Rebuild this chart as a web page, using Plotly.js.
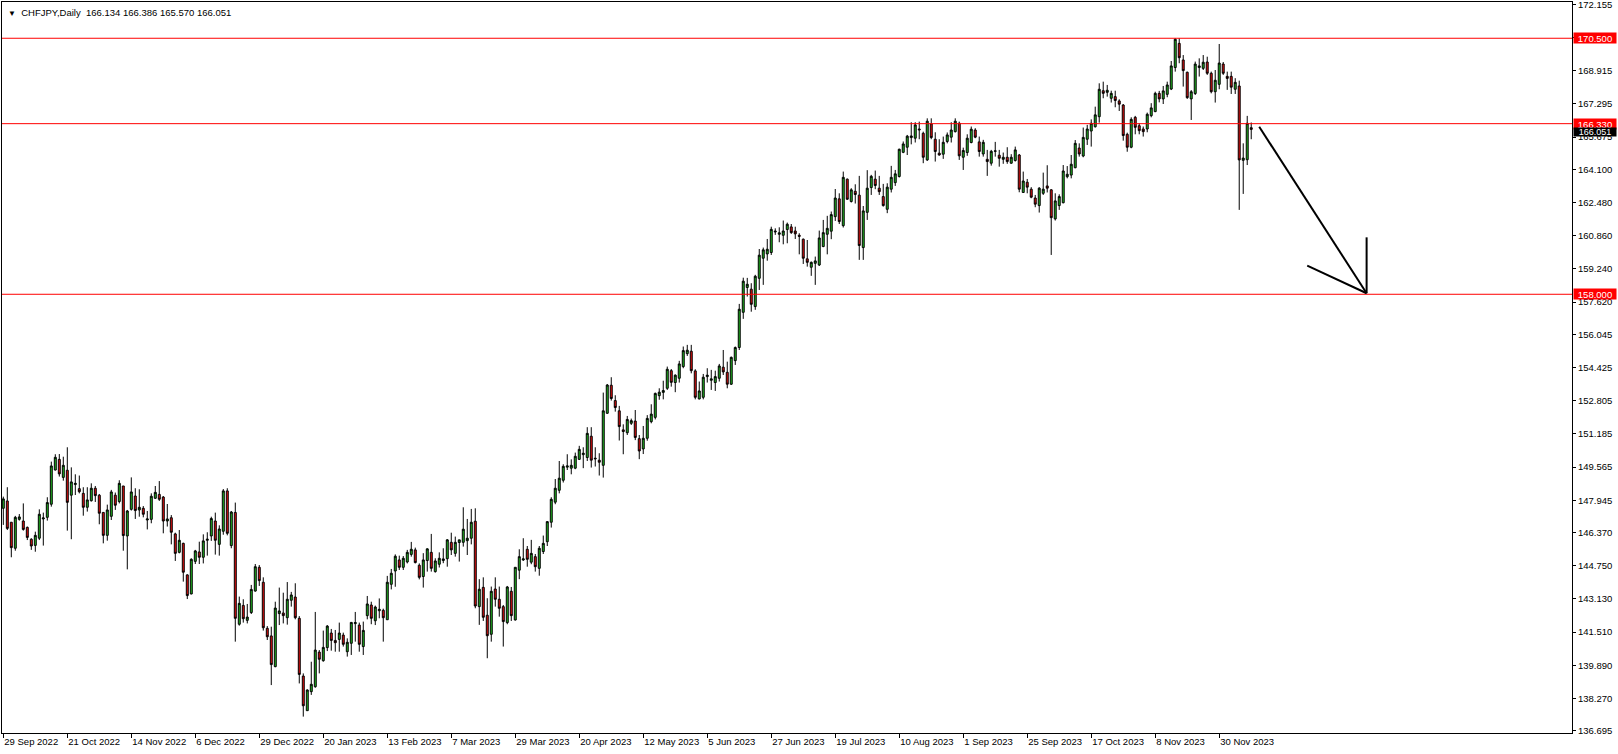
<!DOCTYPE html>
<html>
<head>
<meta charset="utf-8">
<script src="https://cdn.plot.ly/plotly-3.0.1.min.js"></script>
<style>
html,body{margin:0;padding:0;background:#ffffff;}
#chart{width:1618px;height:754px;}
</style>
</head>
<body>
<div id="chart"></div>
<script>
const symbolTitle = "CHFJPY,Daily";

const opens = [
147.55,147.91,146.87,145.60,147.01,146.93,146.62,146.04,145.74,146.09,
147.03,147.11,147.75,149.42,149.94,149.06,149.41,148.19,148.71,148.51,
148.28,147.60,147.92,148.53,148.19,147.35,146.23,147.16,148.19,147.88,
148.64,146.20,147.50,148.15,147.47,147.55,146.98,147.01,148.04,148.23,
148.10,146.93,147.09,146.30,145.40,145.84,144.30,143.37,144.96,145.42,
145.16,145.99,146.20,146.93,145.79,146.43,148.40,145.73,147.35,141.89,
142.81,142.08,142.46,143.51,144.67,143.94,141.69,141.32,139.82,142.41,
142.44,142.21,143.06,143.22,142.18,139.36,137.67,138.60,138.84,140.53,
140.11,140.75,141.46,141.10,141.15,141.36,140.55,140.96,141.92,141.85,
140.80,142.31,142.83,142.06,142.55,142.57,142.11,143.84,144.49,145.03,
144.67,144.93,145.30,145.52,144.77,144.22,145.00,145.40,144.46,144.82,
145.00,145.09,145.89,145.35,145.88,145.89,145.97,146.09,146.92,142.75,
143.69,142.33,141.40,143.61,143.11,142.75,141.97,143.50,142.10,144.53,
145.03,145.55,144.92,145.19,144.62,145.44,145.92,146.87,147.85,148.43,
148.92,149.56,149.51,149.51,149.94,150.17,150.03,151.07,149.96,149.90,
149.65,152.19,153.56,152.81,152.31,151.38,151.24,151.70,151.81,150.95,
150.45,150.97,151.78,151.99,153.05,153.21,153.41,154.27,153.69,153.90,
154.47,155.10,155.22,154.26,152.89,152.97,153.98,153.80,153.69,153.90,
154.44,154.19,153.61,154.76,155.40,157.12,158.33,158.25,157.40,158.78,
159.76,159.97,160.04,161.04,160.93,160.88,161.16,161.29,161.09,160.88,
160.69,159.73,159.32,159.51,159.43,160.33,160.93,161.08,161.79,162.66,
161.35,163.62,162.53,163.03,162.84,160.28,162.00,163.21,163.62,163.18,
162.77,162.15,163.13,163.45,163.75,164.93,165.18,165.65,165.62,166.07,
165.86,164.56,166.32,165.57,164.89,164.84,165.46,165.67,165.94,166.35,
164.69,164.92,165.41,166.02,165.44,164.85,164.59,164.40,164.98,164.79,
164.59,164.69,164.40,164.53,164.80,162.97,163.47,163.13,162.70,162.33,
162.93,163.29,163.10,161.68,162.33,162.47,163.74,163.82,164.18,165.14,
164.75,165.57,165.97,166.18,166.67,167.94,167.86,167.57,167.65,167.44,
167.24,165.81,165.18,166.64,166.23,166.07,166.07,166.72,166.92,167.81,
167.54,167.76,168.02,169.07,170.25,169.44,168.84,167.54,167.80,169.07,
169.03,169.34,168.79,167.89,168.25,169.24,168.64,168.64,168.01,168.17,
164.54,164.57,166.134
];

const highs = [
148.12,148.58,146.87,147.18,147.27,147.79,146.66,146.09,146.41,147.50,
147.34,148.09,149.83,150.19,150.20,150.07,150.53,149.55,149.21,149.15,
148.58,148.58,148.77,148.64,148.25,147.35,147.73,148.45,148.32,148.92,
148.64,147.47,149.06,148.53,148.48,147.66,147.42,148.28,148.64,148.88,
148.15,147.76,147.22,146.36,146.49,145.87,144.33,145.11,145.52,145.92,
146.28,146.38,147.14,147.34,146.72,148.49,148.53,147.42,147.83,143.24,
143.11,142.88,143.81,144.83,144.78,144.18,141.80,141.77,142.99,143.68,
143.43,143.95,143.47,143.89,142.29,139.49,138.71,140.06,142.49,140.63,
141.58,141.85,141.66,141.61,141.97,141.48,141.20,142.00,142.49,141.97,
142.02,143.27,142.99,142.80,143.15,142.65,144.25,144.59,145.30,145.24,
145.22,145.52,145.91,145.63,144.86,145.36,145.60,146.30,145.11,145.40,
145.60,146.05,146.36,146.17,146.01,147.60,147.03,147.52,147.55,144.09,
144.18,143.16,143.73,144.18,143.73,142.83,143.76,143.71,144.67,145.55,
146.09,145.71,146.01,145.32,145.71,146.22,146.93,148.09,148.98,149.86,
149.70,150.19,149.94,150.27,150.60,150.53,151.51,151.51,150.53,150.24,
153.20,153.62,153.95,153.07,152.55,151.65,152.06,151.93,152.35,151.13,
151.57,152.10,152.63,153.20,153.41,153.78,154.47,154.35,154.09,154.75,
155.45,155.53,155.53,154.34,153.74,154.11,154.39,154.31,154.27,154.60,
155.28,154.71,154.96,155.45,157.53,158.81,158.80,158.54,158.95,160.21,
160.28,160.70,161.30,161.22,161.27,161.60,161.50,161.43,161.30,160.98,
160.72,160.65,159.60,159.84,161.11,161.63,161.83,162.04,163.14,162.93,
163.99,163.65,163.18,163.37,163.78,162.31,164.06,163.83,164.04,163.78,
163.39,163.42,164.27,164.07,165.11,165.46,165.78,166.40,166.40,166.43,
165.94,166.59,166.59,165.91,165.57,165.70,165.90,166.40,166.59,166.43,
165.16,165.81,166.19,166.11,165.70,165.54,165.05,165.05,165.44,165.05,
164.92,165.18,164.84,165.21,164.85,163.99,163.63,163.23,162.85,163.23,
163.94,164.30,163.13,162.93,162.88,164.31,164.26,164.80,165.53,165.37,
166.14,166.27,166.54,167.16,168.30,168.38,168.22,167.94,167.94,167.52,
167.29,165.89,166.64,166.71,166.35,166.19,166.87,167.33,167.89,167.93,
168.17,168.38,169.39,170.50,170.50,169.68,168.87,167.97,169.36,169.52,
169.68,169.60,168.87,168.95,170.22,169.34,168.87,168.87,168.55,168.43,
165.37,166.71,166.386
];

const lows = [
146.74,146.49,145.16,145.48,146.95,146.46,146.00,145.52,145.43,146.00,
145.73,146.95,147.63,149.40,149.10,148.90,146.46,146.04,148.20,148.28,
147.19,147.39,147.88,147.86,146.77,145.84,145.97,146.98,147.47,147.79,
145.48,144.57,147.44,147.03,147.14,147.11,146.52,146.82,148.01,147.91,
146.33,146.66,145.79,144.98,145.35,143.97,143.12,143.35,144.83,144.83,
144.86,145.24,145.96,145.29,145.24,146.26,146.23,145.60,141.04,141.82,
141.97,141.93,142.39,143.48,143.76,141.58,141.12,138.92,139.79,141.85,
141.93,141.87,142.75,142.13,139.00,137.38,137.67,138.44,138.79,139.49,
140.06,140.58,140.60,140.55,140.55,140.80,140.31,140.39,141.04,140.55,
140.39,142.13,141.89,141.85,142.18,141.04,142.10,143.59,143.72,144.54,
144.54,144.86,145.19,144.86,144.08,143.68,144.46,144.46,144.41,144.66,
144.87,144.70,145.27,145.19,144.95,145.68,145.27,145.79,142.67,141.86,
142.05,140.23,141.04,142.75,142.26,140.80,141.89,142.05,142.07,144.09,
144.98,144.70,144.82,144.46,144.26,145.32,145.71,146.61,147.75,148.28,
148.81,149.42,149.21,149.46,149.91,149.51,149.86,149.54,149.59,149.15,
149.05,152.16,152.81,152.27,150.86,150.19,151.13,151.62,150.88,149.95,
150.20,150.85,151.70,151.89,152.85,152.87,153.33,153.49,153.22,153.69,
154.39,154.99,154.14,152.87,152.87,152.87,153.69,153.33,153.28,153.74,
154.06,153.41,153.57,154.55,155.28,156.80,157.89,157.15,157.24,158.21,
158.46,159.64,159.92,160.90,160.54,160.44,160.49,160.95,160.70,159.95,
159.48,159.35,158.90,158.46,159.38,160.30,159.95,160.69,161.58,161.43,
161.26,162.61,162.48,162.43,159.68,159.68,161.63,162.85,163.13,162.85,
162.28,161.96,162.97,163.29,163.70,164.89,164.80,165.32,165.41,165.57,
164.40,164.51,165.57,164.48,164.77,164.61,165.37,165.41,165.90,164.56,
164.07,164.76,165.37,165.62,164.72,164.72,163.78,164.28,164.72,164.23,
164.37,164.37,164.37,164.48,162.98,162.97,162.93,162.69,162.25,161.99,
162.85,162.97,159.92,161.60,162.12,162.44,163.66,163.66,164.15,164.72,
164.69,165.29,165.21,166.14,166.38,167.57,167.65,167.36,167.13,166.95,
165.50,164.96,165.13,165.81,165.81,165.70,165.91,166.64,166.89,167.37,
167.29,167.62,167.97,168.87,169.28,168.14,167.54,166.51,167.73,168.63,
168.95,168.71,167.81,167.36,168.01,168.71,167.98,167.78,167.78,162.12,
162.90,164.31,165.570
];

const closes = [
148.01,146.57,145.63,147.11,147.13,146.52,146.13,145.71,146.23,147.26,
147.08,147.83,149.62,150.04,149.23,149.65,147.84,148.84,148.77,148.36,
147.60,147.96,148.53,148.17,147.31,146.23,147.47,148.35,147.70,148.77,
146.22,147.42,148.35,147.44,147.60,147.26,147.03,148.14,148.33,147.99,
146.93,147.03,146.38,145.35,145.99,144.43,143.29,145.06,145.47,145.16,
145.96,146.04,147.05,145.99,146.54,148.40,146.33,147.37,142.18,142.91,
142.16,142.24,143.59,144.70,144.02,141.72,141.28,139.92,142.68,142.54,
142.31,143.11,143.32,142.21,139.44,137.91,138.68,138.96,140.63,140.18,
140.76,141.80,141.10,140.99,141.46,140.91,141.01,141.98,141.97,140.91,
141.59,142.88,142.18,142.73,142.62,142.21,143.94,144.38,145.21,144.67,
145.11,145.40,145.55,144.90,144.18,145.03,145.57,144.62,144.98,145.11,
145.08,146.01,145.52,145.89,146.01,146.53,146.09,146.87,142.78,143.60,
142.23,141.33,143.50,143.11,142.67,142.02,143.71,142.31,144.67,145.19,
145.08,145.06,145.35,144.70,145.60,145.84,146.90,147.99,148.53,149.02,
149.60,149.62,149.65,150.09,150.43,150.24,151.21,149.90,149.99,149.80,
152.31,153.57,152.91,152.47,151.54,151.30,151.89,151.83,151.01,150.35,
150.97,151.94,152.15,153.16,153.22,153.30,154.34,153.70,154.05,154.60,
155.25,155.27,154.27,152.97,153.28,153.95,154.05,153.87,153.98,154.50,
154.21,153.61,154.92,155.40,157.27,158.64,158.49,157.51,158.88,159.91,
160.17,160.20,161.17,161.08,161.00,161.09,161.42,161.01,160.95,160.83,
159.76,159.56,159.56,159.63,160.75,161.01,161.22,161.89,162.70,161.55,
163.71,162.64,163.10,162.87,160.38,162.07,163.18,163.76,163.31,163.01,
162.33,163.23,163.71,163.88,165.08,165.34,165.72,165.73,166.27,166.03,
164.69,166.45,165.65,164.97,164.80,165.42,165.78,166.02,166.45,164.76,
165.02,165.62,166.06,165.67,164.97,165.42,164.48,164.98,165.00,164.64,
164.69,164.48,164.69,165.05,163.13,163.53,163.23,162.74,162.40,163.18,
163.13,163.18,161.74,162.56,162.77,164.02,163.86,164.35,165.37,164.85,
165.66,166.07,166.35,166.76,168.01,167.81,167.96,167.81,167.46,167.28,
165.75,165.18,166.54,166.15,165.99,165.94,166.79,167.10,167.81,167.54,
167.93,168.22,169.15,170.45,169.55,168.92,167.60,167.89,169.24,169.15,
169.33,168.79,167.89,168.45,169.29,168.79,168.54,168.11,168.35,164.56,
164.65,166.35,166.051
];

const dateLabels = [
"29 Sep 2022","21 Oct 2022","14 Nov 2022","6 Dec 2022","29 Dec 2022",
"20 Jan 2023","13 Feb 2023","7 Mar 2023","29 Mar 2023","20 Apr 2023",
"12 May 2023","5 Jun 2023","27 Jun 2023","19 Jul 2023","10 Aug 2023",
"1 Sep 2023","25 Sep 2023","17 Oct 2023","8 Nov 2023","30 Nov 2023"
];
const barsPerLabel = 16;

const priceTicks = [
172.155,170.535,168.915,167.295,165.675,164.100,162.480,160.860,159.240,
157.620,156.045,154.425,152.805,151.185,149.565,147.945,146.370,144.750,
143.130,141.510,139.890,138.270,136.695
];

const levelPrices = [170.5, 166.33, 158.0];
const levelTexts = ["170.500", "166.330", "158.000"];

// hand-drawn arrow (bar index, price)
const arrowShaftX = [314.0, 340.85];
const arrowShaftY = [166.18, 158.05];
const arrowWingX = [326.0, 340.85];
const arrowWingY = [159.40, 158.05];
const arrowStemX = [340.85, 340.85];
const arrowStemY = [160.78, 158.05];

// ---------- build ----------
const barIndex = opens.map((_, i) => i);
const last = opens.length - 1;
const lastClose = closes[last];

const FONT = '"Liberation Sans", Arial, sans-serif';

const trace = {
  type: 'candlestick',
  x: barIndex,
  open: opens, high: highs, low: lows, close: closes,
  increasing: {line: {color: '#000000', width: 1}, fillcolor: '#22b822'},
  decreasing: {line: {color: '#000000', width: 1}, fillcolor: '#e51010'},
  whiskerwidth: 0,
  hoverinfo: 'skip',
  showlegend: false
};

const shapes = [];
levelPrices.forEach(p => {
  shapes.push({type: 'line', xref: 'paper', x0: 0, x1: 1, yref: 'y', y0: p, y1: p,
    line: {color: '#ff0000', width: 1}, layer: 'above'});
});
[[arrowShaftX, arrowShaftY], [arrowWingX, arrowWingY], [arrowStemX, arrowStemY]].forEach(([xs, ys]) => {
  shapes.push({type: 'line', xref: 'x', yref: 'y', x0: xs[0], x1: xs[1], y0: ys[0], y1: ys[1],
    line: {color: '#000000', width: 2}, layer: 'above'});
});

const annotations = [];
annotations.push({
  xref: 'paper', yref: 'paper', x: 0, y: 1, xanchor: 'left', yanchor: 'top',
  xshift: 4, yshift: -3, showarrow: false, align: 'left',
  text: '<span style="font-size:8px">▼</span>  ' + symbolTitle + '  ' +
        [opens[last], highs[last], lows[last], closes[last]].map(v => v.toFixed(3)).join(' '),
  font: {family: FONT, size: 9.5, color: '#000000'}
});
levelPrices.forEach((p, k) => {
  annotations.push({
    xref: 'paper', yref: 'y', x: 1, y: p, xanchor: 'left', yanchor: 'middle',
    xshift: 1, showarrow: false, text: levelTexts[k],
    bgcolor: '#ff0000', font: {family: FONT, size: 9.5, color: '#ffffff'},
    width: 42, height: 10, borderpad: 0
  });
});
annotations.push({
  xref: 'paper', yref: 'y', x: 1, y: lastClose, xanchor: 'left', yanchor: 'middle',
  xshift: 1, yshift: -3, showarrow: false, text: lastClose.toFixed(3),
  bgcolor: '#000000', font: {family: FONT, size: 9, color: '#ffffff'},
  width: 42, height: 8, borderpad: 0
});

const layout = {
  width: 1618, height: 754,
  margin: {l: 2, r: 46, t: 2, b: 21, pad: 0},
  paper_bgcolor: '#ffffff', plot_bgcolor: '#ffffff',
  showlegend: false,
  font: {family: FONT, size: 9.5, color: '#000000'},
  xaxis: {
    type: 'linear',
    range: [-0.325, 392.2],
    rangeslider: {visible: false},
    showgrid: false, zeroline: false,
    showline: true, mirror: true, linecolor: '#000000', linewidth: 1,
    ticks: 'outside', ticklen: 4, tickwidth: 1, tickcolor: '#000000',
    tickvals: dateLabels.map((_, k) => k * barsPerLabel),
    ticktext: dateLabels,
    ticklabelposition: 'outside right',
    tickfont: {family: FONT, size: 9.5, color: '#000000'},
    fixedrange: true
  },
  yaxis: {
    side: 'right',
    range: [136.58, 172.27],
    showgrid: false, zeroline: false,
    showline: true, mirror: true, linecolor: '#000000', linewidth: 1,
    ticks: 'outside', ticklen: 3, tickwidth: 1, tickcolor: '#000000',
    tickvals: priceTicks,
    ticktext: priceTicks.map(v => v.toFixed(3)),
    tickfont: {family: FONT, size: 9.5, color: '#000000'},
    ticklabeloverflow: 'allow',
    fixedrange: true
  },
  shapes: shapes,
  annotations: annotations
};

Plotly.newPlot('chart', [trace], layout, {staticPlot: true, displayModeBar: false});
</script>
</body>
</html>
